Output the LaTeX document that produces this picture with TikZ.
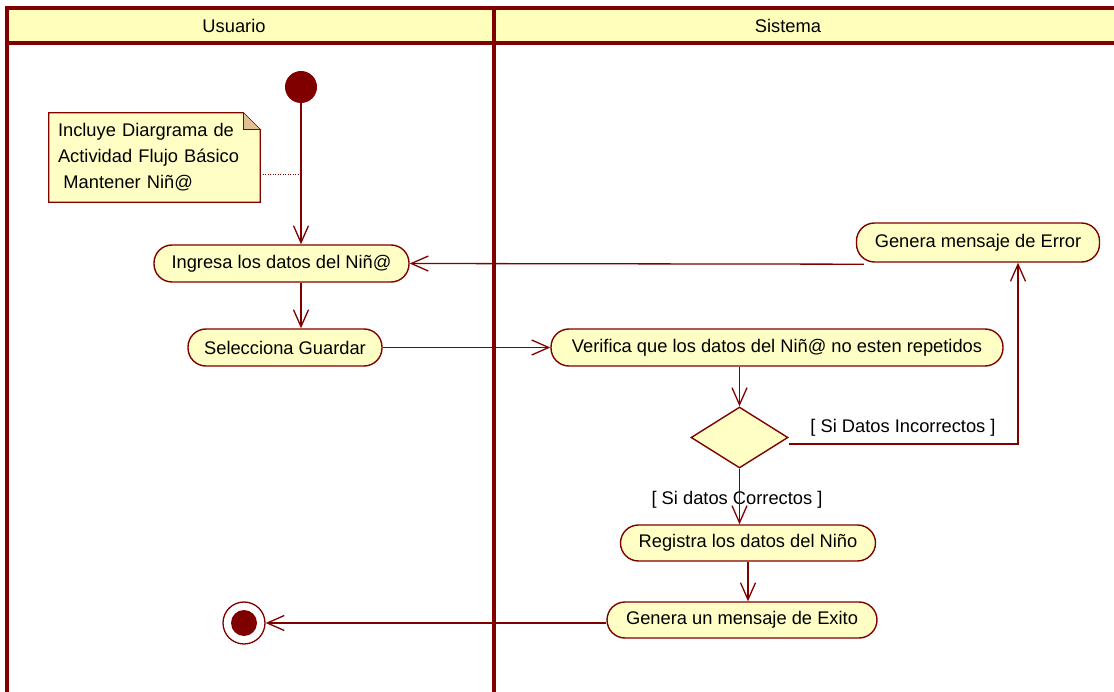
\documentclass[tikz,border=0pt]{standalone}
\usepackage{fontspec}
\setmainfont{Liberation Sans}
\definecolor{umlred}{RGB}{128,0,0}
\definecolor{umlfill}{RGB}{255,255,197}
\definecolor{umlhead}{RGB}{255,255,187}
\usetikzlibrary{arrows.meta,positioning,shapes.geometric,backgrounds}

\begin{document}
\begin{tikzpicture}[x=1pt, y=-1pt,
  act/.style={draw=umlred, fill=umlfill, line width=1.4pt, rounded corners=18pt, minimum height=37pt, inner sep=0pt, font=\fontsize{18.3}{22}\selectfont},
  flow/.style={umlred, line width=1.3pt, -{Straight Barb[length=17pt, width=15pt, line width=1.3pt]}},
  lane/.style={umlred, line width=3.5pt},
  lbl/.style={font=\fontsize{18.3}{22}\selectfont}]
  \useasboundingbox (0,0) rectangle (1114,692);

  % Swimlanes
  \fill[umlhead] (7,8) rectangle (1114,43);
  \draw[lane] (1114,8) -- (7,8) -- (7,692);
  \draw[lane] (7,43) -- (1114,43);
  \draw[lane] (494,8) -- (494,692);
  \node[lbl] (hdrU) at (234,26) {Usuario};
  \node[lbl] (hdrS) at (788,26) {Sistema};

  % Usuario lane
  \node[circle, fill=umlred, minimum size=32pt, inner sep=0pt] (start) at (301,87) {};
  \node[align=left, inner xsep=9pt, minimum width=211pt, minimum height=89pt, text width=193pt, font=\fontsize{18.3}{26}\selectfont] (note) at (154.5,157.5) {Incluye Diargrama de\\Actividad Flujo Básico\\\hspace{0.3em}Mantener Niñ@};
  \begin{scope}[on background layer]
    \draw[umlred, fill=umlfill, line width=1.2pt] (note.north west) -- ([xshift=-17pt]note.north east) -- ([yshift=-17pt]note.north east) -- (note.south east) -- (note.south west) -- cycle;
  \end{scope}
  \draw[umlred, fill=umlred!25!umlfill, line width=1.2pt] ([xshift=-17pt]note.north east) -- ([xshift=-17pt, yshift=-17pt]note.north east) -- ([yshift=-17pt]note.north east);
  \coordinate (anc) at (300,175);
  \draw[umlred, line width=1pt, dash pattern=on 1pt off 1.5pt] (anc -| note.east) -- (anc);

  \node[act, minimum width=255pt] (ing) at (281.5,263.5) {Ingresa los datos del Niñ@};
  \node[act, minimum width=194pt] (sel) at (285,347.5) {Selecciona Guardar};
  \node[circle, draw=umlred, fill=white, line width=1.3pt, minimum size=42pt, inner sep=0pt,
    path picture={\fill[umlred] (path picture bounding box.center) circle (13pt);}] (fin) at (244,623) {};

  % Sistema lane
  \node[act, minimum width=243pt, minimum height=39pt] (err) at (978,242.5) {Genera mensaje de Error};
  \node[act, minimum width=452pt] (ver) at (777,347.5) {Verifica que los datos del Niñ@ no esten repetidos};
  \node[diamond, draw=umlred, fill=umlfill, line width=1.4pt, minimum width=97pt, minimum height=61pt, inner sep=0pt] (dec) at (739.5,437.5) {};
  \node[lbl] (lblInc) at (903,428) {[ Si Datos Incorrectos ]};
  \node[lbl] (lblCor) at (737,500) {[ Si datos Correctos ]};
  \node[act, minimum width=255pt, minimum height=36pt] (reg) at (748,543) {Registra los datos del Niño};
  \node[act, minimum width=270pt, minimum height=36pt] (exi) at (742,620) {Genera un mensaje de Exito};

  % Flows
  \draw[flow] (start) -- (ing.north -| start);
  \draw[flow] (ing.south -| start) -- (sel.north -| start);
  \draw[flow] (sel.east) -- (ver.west);
  \draw[flow] (ver.south -| dec) -- (dec.north);
  \draw[flow] ([yshift=-6.5pt]dec.east) -| ([xshift=40pt]err.south);
  \draw[flow] (err.south west) ++(8,1.5) -- (ing.east);
  \draw[flow] (dec.south) -- (reg.north -| dec);
  \draw[flow] (reg.south) -- (exi.north -| reg);
  \draw[flow] ([yshift=-3pt]exi.west) -- (fin.east);
\end{tikzpicture}
\end{document}
